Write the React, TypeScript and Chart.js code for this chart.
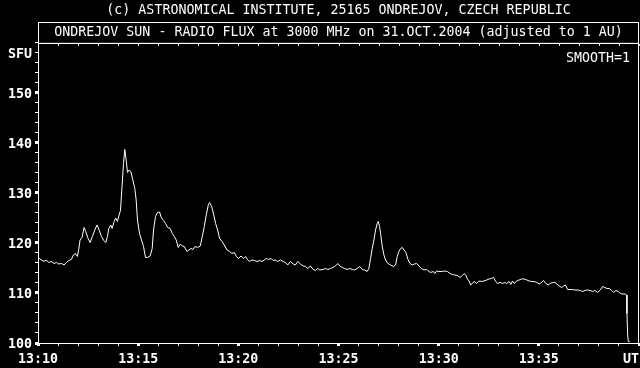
import React, { useEffect, useRef } from 'react';
import { Chart, registerables } from 'chart.js';

Chart.register(...registerables);

const TITLE = '(c) ASTRONOMICAL INSTITUTE, 25165 ONDREJOV, CZECH REPUBLIC';
const SUBTITLE = 'ONDREJOV SUN - RADIO FLUX at 3000 MHz on 31.OCT.2004 (adjusted to 1 AU)';
const Y_UNIT = 'SFU';
const SMOOTH_LABEL = 'SMOOTH=1';
const X_TICK_LABELS = ['13:10', '13:15', '13:20', '13:25', '13:30', '13:35', 'UT'];
const Y_TICK_LABELS = [100, 110, 120, 130, 140, 150];

// seconds after 13:10:00 UT
const SECONDS = [
  0, 10, 18, 25, 32, 40, 48, 55, 62, 70,
  78, 85, 92, 100, 106, 112, 118, 122, 126, 132,
  138, 143, 150, 156, 163, 170, 177, 183, 190, 197,
  203, 208, 212, 218, 222, 228, 233, 238, 243, 247,
  251, 256, 260, 264, 268, 273, 278, 284, 290, 294,
  298, 304, 310, 316, 322, 328, 336, 342, 346, 352,
  358, 364, 370, 376, 382, 388, 396, 402, 408, 414,
  420, 426, 432, 438, 446, 452, 458, 464, 470, 478,
  486, 492, 498, 504, 510, 514, 520, 525, 532, 538,
  544, 551, 558, 566, 574, 581, 588, 594, 601, 608,
  616, 622, 628, 634, 641, 648, 656, 664, 671, 678,
  684, 691, 698, 704, 711, 718, 726, 734, 741, 748,
  756, 764, 771, 778, 786, 794, 801, 808, 816, 824,
  831, 838, 844, 854, 861, 868, 876, 884, 891, 898,
  904, 911, 918, 926, 934, 941, 948, 956, 964, 971,
  978, 986, 991, 996, 1001, 1006, 1011, 1016, 1019, 1023,
  1026, 1031, 1036, 1041, 1048, 1056, 1064, 1071, 1076, 1081,
  1086, 1091, 1096, 1102, 1108, 1114, 1121, 1128, 1134, 1141,
  1148, 1156, 1164, 1171, 1176, 1184, 1188, 1194, 1201, 1211,
  1218, 1226, 1234, 1241, 1248, 1256, 1264, 1271, 1276, 1281,
  1286, 1291, 1296, 1301, 1306, 1314, 1321, 1328, 1336, 1344,
  1351, 1358, 1364, 1371, 1376, 1384, 1391, 1398, 1404, 1411,
  1416, 1421, 1426, 1434, 1441, 1448, 1456, 1464, 1471, 1478,
  1486, 1494, 1501, 1508, 1514, 1521, 1528, 1534, 1541, 1548,
  1554, 1561, 1568, 1574, 1580, 1586, 1594, 1601, 1608, 1616,
  1624, 1631, 1638, 1646, 1654, 1661, 1668, 1676, 1684, 1691,
  1698, 1704, 1711, 1718, 1724, 1731, 1738, 1744, 1751, 1758,
  1763, 1764, 1766, 1768, 1772,
];

// radio flux in SFU
const FLUX = [
  117.1, 116.6, 116.3, 116.6, 116.1, 116.3, 115.9, 116.1, 115.8, 115.9,
  115.6, 116.1, 116.5, 116.7, 117.6, 117.9, 117.3, 118.7, 120.6, 121.1,
  123.1, 122.3, 120.9, 120.1, 121.3, 122.6, 123.6, 122.6, 121.3, 120.5,
  120.1, 121.3, 122.9, 123.6, 122.9, 124.3, 125.0, 124.3, 125.6, 126.5,
  130.6, 135.9, 138.7, 136.6, 134.1, 134.6, 134.3, 132.6, 130.9, 128.6,
  124.6, 121.9, 120.6, 119.3, 117.1, 117.1, 117.4, 118.9, 122.6, 125.3,
  126.1, 126.2, 125.0, 124.5, 123.9, 123.1, 122.9, 121.9, 121.3, 120.6,
  119.1, 119.8, 119.4, 119.3, 118.3, 118.6, 118.9, 118.7, 119.3, 119.1,
  119.4, 121.3, 123.3, 125.6, 127.6, 128.1, 127.3, 126.0, 123.9, 122.6,
  120.9, 120.3, 119.6, 118.6, 118.3, 117.9, 118.1, 117.3, 116.9, 117.4,
  116.9, 117.3, 116.6, 116.3, 116.6, 116.5, 116.3, 116.5, 116.3, 116.6,
  116.9, 116.7, 116.9, 116.5, 116.6, 116.3, 116.6, 116.3, 116.1, 115.6,
  116.3, 115.8, 115.6, 116.3, 115.8, 115.4, 115.3, 114.9, 115.4, 114.7,
  114.5, 114.9, 114.6, 114.7, 114.9, 114.7, 114.9, 115.1, 115.4, 115.9,
  115.4, 115.1, 114.9, 114.7, 114.9, 114.7, 114.6, 114.9, 115.3, 114.7,
  114.6, 114.3, 114.9, 116.9, 118.9, 120.6, 122.6, 123.9, 124.3, 123.3,
  121.9, 119.3, 117.6, 116.6, 115.9, 115.6, 115.3, 115.6, 117.3, 118.3,
  118.9, 119.1, 118.6, 118.1, 116.7, 115.9, 115.6, 115.8, 115.9, 115.4,
  114.9, 114.6, 114.7, 114.3, 114.1, 114.3, 113.9, 114.4, 114.3, 114.3,
  114.4, 114.3, 113.9, 113.7, 113.6, 113.5, 113.1, 113.5, 113.9, 113.6,
  112.8, 112.4, 111.6, 111.9, 112.3, 111.9, 112.4, 112.3, 112.4, 112.6,
  112.8, 112.9, 113.1, 112.3, 111.9, 112.1, 111.9, 112.1, 111.9, 112.3,
  111.7, 112.4, 111.9, 112.4, 112.6, 112.8, 112.8, 112.6, 112.4, 112.3,
  112.3, 112.1, 111.8, 112.1, 112.5, 111.9, 111.6, 111.9, 112.1, 112.1,
  111.8, 111.4, 111.1, 111.4, 111.6, 110.7, 110.7, 110.7, 110.6, 110.6,
  110.5, 110.3, 110.5, 110.6, 110.5, 110.3, 110.5, 110.1, 110.6, 111.3,
  111.1, 110.9, 110.9, 110.5, 110.1, 110.5, 110.3, 109.9, 109.8, 109.8,
  109.6, 105.9, 101.6, 100.3, 100.3,
];

const FONT_FAMILY = "'DejaVu Sans Mono', 'Liberation Mono', monospace";

const framePlugin = {
  id: 'ondrejovFrame',
  afterDraw(chart: any) {
    const { ctx, chartArea: a, scales } = chart;
    ctx.save();
    ctx.strokeStyle = '#ffffff';
    ctx.lineWidth = 1;
    // plot frame
    ctx.strokeRect(a.left + 0.5, a.top + 0.5, a.right - a.left - 1, a.bottom - a.top);
    // subtitle box
    ctx.strokeRect(a.left + 0.5, 22.5, a.right - a.left - 1, a.top - 22);
    // inner ticks along top edge
    const xs = scales.x;
    ctx.beginPath();
    for (const t of xs.ticks) {
      const px = Math.round(xs.getPixelForValue(t.value)) + 0.5;
      ctx.moveTo(px, a.top + 1);
      ctx.lineTo(px, a.top + 3);
    }
    ctx.stroke();
    // smoothing note
    ctx.fillStyle = '#ffffff';
    ctx.font = `13.3px ${FONT_FAMILY}`;
    ctx.textAlign = 'right';
    ctx.textBaseline = 'middle';
    ctx.fillText(SMOOTH_LABEL, a.right - 9, 59);
    ctx.restore();
  },
};

export default function App() {
  const canvasRef = useRef<HTMLCanvasElement | null>(null);

  useEffect(() => {
    document.body.style.margin = '0';
    document.body.style.background = '#000';
    const canvas = canvasRef.current;
    if (!canvas) return;
    const points = SECONDS.map((s, i) => ({ x: s, y: FLUX[i] }));
    const chart = new Chart(canvas, {
      type: 'line',
      data: {
        datasets: [
          {
            data: points,
            borderColor: '#ffffff',
            borderWidth: 1,
            pointRadius: 0,
            tension: 0,
            fill: false,
          },
        ],
      },
      options: {
        animation: false,
        responsive: false,
        maintainAspectRatio: false,
        devicePixelRatio: 1,
        layout: { padding: { left: 0, right: 1, top: 0, bottom: 0 } },
        plugins: {
          legend: { display: false },
          tooltip: { enabled: false },
          title: {
            display: true,
            text: TITLE,
            color: '#ffffff',
            fullSize: false,
            font: { family: FONT_FAMILY, size: 13.3, weight: 'normal', lineHeight: 1.2 },
            padding: { top: 3, bottom: 4 },
          },
          subtitle: {
            display: true,
            text: SUBTITLE,
            color: '#ffffff',
            fullSize: false,
            font: { family: FONT_FAMILY, size: 13.3, weight: 'normal', lineHeight: 1.2 },
            padding: { top: 2, bottom: 2 },
          },
        },
        scales: {
          x: {
            type: 'linear',
            position: 'bottom',
            min: 0,
            max: 1800,
            afterFit: (s: any) => {
              s.height = 25;
              s.paddingLeft = 0;
              s.paddingRight = 0;
            },
            ticks: {
              stepSize: 60,
              autoSkip: false,
              maxRotation: 0,
              minRotation: 0,
              color: '#ffffff',
              padding: 6,
              font: { family: FONT_FAMILY, size: 13.3, weight: 'bold', lineHeight: 1.2 },
              callback: (v: any) => {
                const n = Number(v);
                if (n % 300 !== 0) return '';
                const lbl = X_TICK_LABELS[n / 300];
                return lbl === 'UT' ? 'UT  ' : lbl;
              },
            },
            grid: {
              display: true,
              drawOnChartArea: false,
              drawTicks: true,
              tickLength: 3,
              color: '#ffffff',
              lineWidth: (c: any) => (c.tick && c.tick.value % 300 === 0 ? 3 : 1),
            },
            border: { display: true, color: '#ffffff', width: 1 },
          },
          y: {
            type: 'linear',
            min: 100,
            max: 160,
            afterFit: (s: any) => {
              s.width = 38;
              s.paddingTop = 0;
              s.paddingBottom = 0;
            },
            ticks: {
              stepSize: 2,
              autoSkip: false,
              color: '#ffffff',
              padding: 3,
              labelOffset: 2,
              font: { family: FONT_FAMILY, size: 13.3, weight: 'bold', lineHeight: 1.2 },
              callback: (v: any) => {
                const n = Number(v);
                if (n === 158) return Y_UNIT;
                return Y_TICK_LABELS.includes(n) ? String(n) : '';
              },
            },
            grid: {
              display: true,
              drawOnChartArea: false,
              drawTicks: true,
              tickLength: 3,
              color: '#ffffff',
              lineWidth: (c: any) => (c.tick && Y_TICK_LABELS.includes(c.tick.value) ? 3 : 1),
            },
            border: { display: true, color: '#ffffff', width: 1 },
          },
        },
      },
      plugins: [framePlugin],
    } as any);
    return () => chart.destroy();
  }, []);

  return (
    <div style={{ position: 'fixed', left: 0, top: 0, width: 640, height: 368, background: '#000' }}>
      <canvas ref={canvasRef} width={640} height={368} style={{ display: 'block', width: 640, height: 368 }} />
    </div>
  );
}
